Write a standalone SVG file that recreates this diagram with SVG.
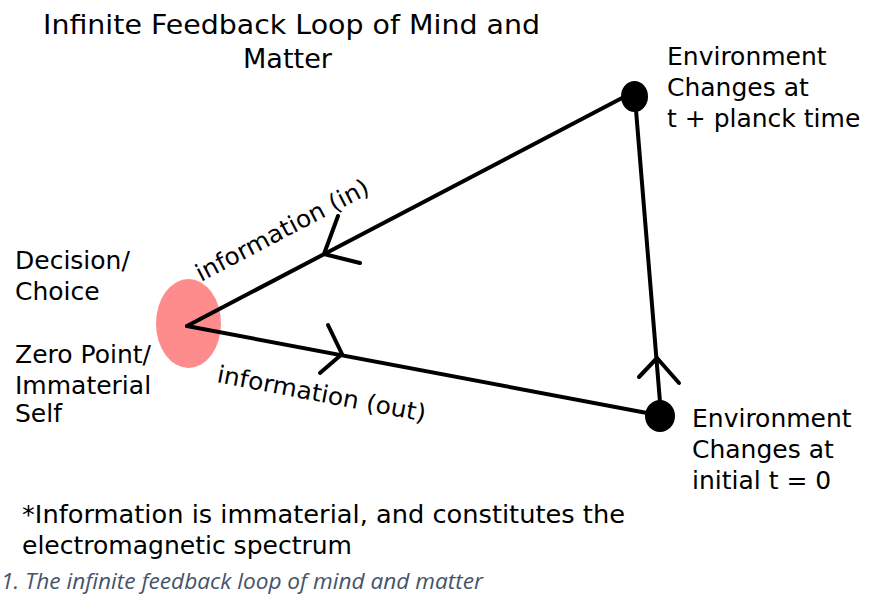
<svg xmlns="http://www.w3.org/2000/svg" width="872" height="594" viewBox="0 0 872 594">
<style>
.t{font-family:"DejaVu Sans",Verdana,sans-serif;font-size:25px;fill:#000}
.big{font-size:27px}
.lbl{font-size:24px}
.ln{stroke:#000;stroke-width:4;fill:none;stroke-linecap:round;stroke-linejoin:round}
.cap{font-family:"Open Sans","Liberation Sans",sans-serif;font-style:italic;font-size:22px;fill:#44546A}
</style>
<rect width="872" height="594" fill="#fff"/>
<g id="title">
<text class="t big" x="43" y="34" textLength="497" lengthAdjust="spacingAndGlyphs">Infinite Feedback Loop of Mind and</text>
<text class="t big" x="243" y="68" textLength="89" lengthAdjust="spacingAndGlyphs">Matter</text>
</g>
<g id="self">
<ellipse cx="188.5" cy="323.5" rx="32.5" ry="44.5" fill="#FF8C8C"/>
<text class="t" x="15" y="269">Decision/</text>
<text class="t" x="15" y="300">Choice</text>
<text class="t" x="15" y="363">Zero Point/</text>
<text class="t" x="15" y="394">Immaterial</text>
<text class="t" x="15" y="422">Self</text>
</g>
<g id="connectors">
<line class="ln" x1="187" y1="326" x2="622" y2="98"/>
<line class="ln" x1="187" y1="326" x2="647" y2="413"/>
<line class="ln" x1="636" y1="110" x2="660" y2="402"/>
<polyline class="ln" points="338,216 324,254 360,263"/>
<polyline class="ln" points="328,325 342,354 320,373"/>
<polyline class="ln" points="639,377 657,358 679,383"/>
<text class="t lbl" transform="translate(201,282) rotate(-27.7)" textLength="192" lengthAdjust="spacingAndGlyphs">information (in)</text>
<text class="t lbl" transform="translate(216,382) rotate(10.8)" textLength="212" lengthAdjust="spacingAndGlyphs">information (out)</text>
</g>
<g id="env-top">
<ellipse cx="634.5" cy="96.5" rx="13.5" ry="15.5" fill="#000"/>
<text class="t" x="667" y="65">Environment</text>
<text class="t" x="667" y="96">Changes at</text>
<text class="t" x="667" y="127">t + planck time</text>
</g>
<g id="env-bottom">
<ellipse cx="660" cy="416" rx="15" ry="16" fill="#000"/>
<text class="t" x="692" y="427">Environment</text>
<text class="t" x="692" y="458">Changes at</text>
<text class="t" x="692" y="489">initial t = 0</text>
</g>
<g id="note">
<text class="t" x="22" y="523" textLength="603" lengthAdjust="spacingAndGlyphs">*Information is immaterial, and constitutes the</text>
<text class="t" x="22" y="554" textLength="330" lengthAdjust="spacingAndGlyphs">electromagnetic spectrum</text>
</g>
<text class="cap" x="1" y="589" textLength="482" lengthAdjust="spacingAndGlyphs">1. The infinite feedback loop of mind and matter</text>
</svg>
